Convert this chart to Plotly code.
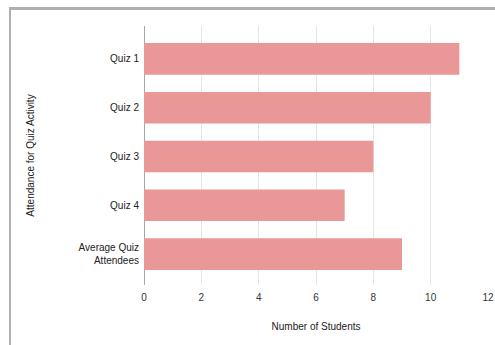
import plotly.graph_objects as go

# Attendance per quiz activity
categories = ["Quiz 1", "Quiz 2", "Quiz 3", "Quiz 4", "Average Quiz<br>Attendees"]
students = [11, 10, 8, 7, 9]
x_ticks = [0, 2, 4, 6, 8, 10, 12]

BAR_COLOR = "#e99797"
FRAME_COLOR = "#b0b0b0"
FONT = "Liberation Sans, Arial, sans-serif"

fig = go.Figure(
    go.Bar(
        x=students,
        y=list(range(len(categories))),
        orientation="h",
        marker=dict(color=BAR_COLOR, line=dict(width=0)),
        hoverinfo="x",
    )
)

fig.update_layout(
    width=495,
    height=345,
    margin=dict(l=144, r=7, t=26, b=60),
    paper_bgcolor="white",
    plot_bgcolor="white",
    bargap=0.35,
    showlegend=False,
    font=dict(family=FONT, size=10, color="#222222"),
    xaxis=dict(
        range=[0, 12],
        tickvals=x_ticks,
        ticktext=[str(v) for v in x_ticks],
        showgrid=True,
        gridcolor="#e4e4e4",
        gridwidth=1,
        zeroline=True,
        zerolinecolor="#a8a8a8",
        zerolinewidth=1,
        showline=False,
        ticks="",
        ticklabelstandoff=5,
        automargin=False,
        tickfont=dict(size=10, color="#333333"),
        title=dict(text="Number of Students", font=dict(size=10, color="#222222"), standoff=20),
        fixedrange=True,
    ),
    yaxis=dict(
        range=[4.635, -0.676],
        tickvals=list(range(len(categories))),
        ticktext=categories,
        showgrid=False,
        zeroline=False,
        showline=False,
        ticks="",
        ticklabelstandoff=4,
        automargin=False,
        tickfont=dict(size=10, color="#222222"),
        title=dict(text="Attendance for Quiz Activity", font=dict(size=10, color="#222222"), standoff=42),
        fixedrange=True,
    ),
    shapes=[
        # card frame: top edge
        dict(type="rect", xref="paper", yref="paper",
             xsizemode="pixel", ysizemode="pixel", xanchor=1, yanchor=1,
             x0=-478, x1=10, y0=16, y1=19,
             fillcolor=FRAME_COLOR, line=dict(width=0)),
        # card frame: left edge
        dict(type="rect", xref="paper", yref="paper",
             xsizemode="pixel", ysizemode="pixel", xanchor=0, yanchor=1,
             x0=-135, x1=-133, y0=-330, y1=19,
             fillcolor=FRAME_COLOR, line=dict(width=0)),
    ],
)

fig.write_html("out.html", config={"displayModeBar": False, "staticPlot": True})
